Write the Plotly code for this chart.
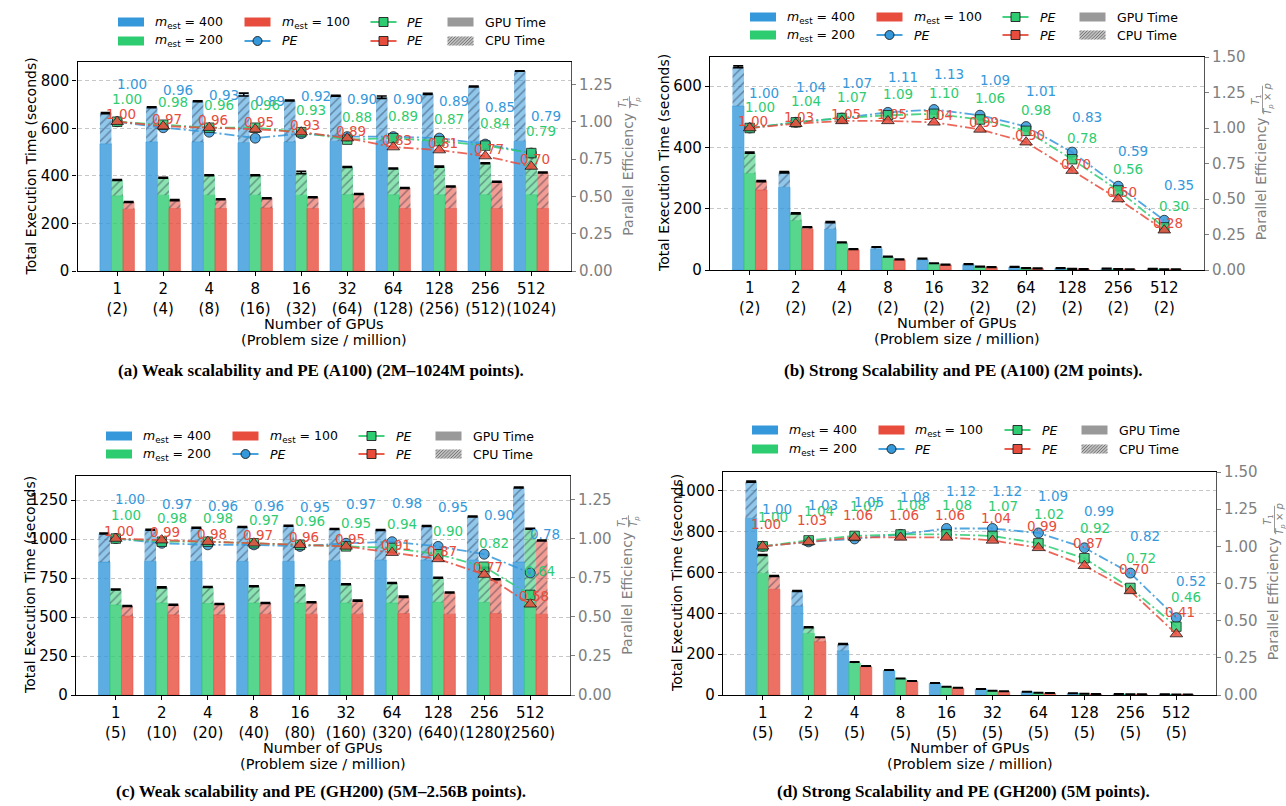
import plotly.graph_objects as go

W, H = 1286, 806

# ---------------------------------------------------------------- data
GPUS = ["1", "2", "4", "8", "16", "32", "64", "128", "256", "512"]
SIZE_A = ["2", "4", "8", "16", "32", "64", "128", "256", "512", "1024"]
SIZE_B = ["2", "2", "2", "2", "2", "2", "2", "2", "2", "2"]
SIZE_C = ["5", "10", "20", "40", "80", "160", "320", "640", "1280", "2560"]
SIZE_D = ["5", "5", "5", "5", "5", "5", "5", "5", "5", "5"]

# (a) weak scaling, A100: GPU / CPU seconds for m_est = 400, 200, 100
A_GPU_400 = [535, 543, 543, 540, 543, 546, 546, 546, 546, 546]
A_CPU_400 = [129, 146, 171, 202, 174, 191, 185, 199, 230, 295]
A_GPU_200 = [316, 319, 319, 319, 319, 321, 321, 321, 321, 321]
A_CPU_200 = [67, 73, 84, 84, 95, 116, 110, 118, 132, 164]
A_GPU_100 = [260, 263, 263, 265, 263, 263, 263, 263, 263, 263]
A_CPU_100 = [30, 35, 39, 41, 47, 61, 86, 92, 112, 151]
A_ERR_400 = [2, 2, 2, 6, 2, 2, 5, 2, 2, 1]
A_ERR_200 = [2, 2, 2, 2, 5, 2, 2, 2, 2, 2]
A_ERR_100 = [2, 2, 2, 2, 2, 2, 2, 2, 2, 2]
A_PE_400 = [1.00, 0.96, 0.93, 0.89, 0.92, 0.90, 0.90, 0.89, 0.85, 0.79]
A_PE_200 = [1.00, 0.98, 0.96, 0.96, 0.93, 0.88, 0.89, 0.87, 0.84, 0.79]
A_PE_100 = [1.00, 0.97, 0.96, 0.95, 0.93, 0.89, 0.83, 0.81, 0.77, 0.70]

# (b) strong scaling, A100
B_GPU_400 = [535, 270, 133, 68, 33, 17, 9, 5, 3.5, 3]
B_CPU_400 = [128, 49, 23, 7, 4, 2, 1.3, 1.2, 0.9, 0.7]
B_GPU_200 = [315, 161, 86, 41, 21, 10.5, 5.5, 3.3, 2.3, 2.1]
B_CPU_200 = [68, 24, 4, 2.5, 1, 0.8, 0.6, 0.5, 0.4, 0.4]
B_GPU_100 = [261, 133, 65, 33, 16.5, 8.7, 4.7, 3.0, 2.1, 1.8]
B_CPU_100 = [29, 7, 3, 1.5, 0.9, 0.5, 0.3, 0.2, 0.2, 0.2]
B_ERR_400 = [3, 2, 2, 1, 1, 1, 1, 1, 1, 1]
B_ERR_200 = [2, 2, 1, 1, 1, 1, 1, 1, 1, 1]
B_ERR_100 = [2, 1, 1, 1, 1, 1, 1, 1, 1, 1]
B_PE_400 = [1.00, 1.04, 1.07, 1.11, 1.13, 1.09, 1.01, 0.83, 0.59, 0.35]
B_PE_200 = [1.00, 1.04, 1.07, 1.09, 1.10, 1.06, 0.98, 0.78, 0.56, 0.30]
B_PE_100 = [1.00, 1.03, 1.05, 1.05, 1.04, 0.99, 0.90, 0.70, 0.50, 0.28]

# (c) weak scaling, GH200
C_GPU_400 = [852, 857, 857, 857, 857, 861, 866, 866, 866, 852]
C_CPU_400 = [183, 203, 215, 220, 228, 203, 192, 217, 279, 478]
C_GPU_200 = [577, 590, 586, 590, 590, 590, 590, 594, 594, 594]
C_CPU_200 = [100, 100, 107, 107, 114, 120, 128, 158, 221, 472]
C_GPU_100 = [506, 514, 514, 518, 518, 518, 522, 518, 522, 518]
C_CPU_100 = [65, 64, 70, 72, 76, 87, 108, 139, 220, 472]
C_ERR_400 = [3, 3, 3, 3, 3, 3, 3, 3, 3, 3]
C_ERR_200 = [3, 3, 3, 3, 3, 3, 3, 3, 3, 3]
C_ERR_100 = [3, 3, 3, 3, 3, 3, 5, 3, 3, 3]
C_PE_400 = [1.00, 0.97, 0.96, 0.96, 0.95, 0.97, 0.98, 0.95, 0.90, 0.78]
C_PE_200 = [1.00, 0.98, 0.98, 0.97, 0.96, 0.95, 0.94, 0.90, 0.82, 0.64]
C_PE_100 = [1.00, 0.99, 0.98, 0.97, 0.96, 0.95, 0.91, 0.87, 0.77, 0.58]

# (d) strong scaling, GH200
D_GPU_400 = [866, 436, 217, 119, 57, 29, 16, 8, 5, 3.5]
D_CPU_400 = [180, 74, 33, 3, 2, 1, 0.5, 0.5, 0.2, 0.5]
D_GPU_200 = [596, 302, 155, 79, 39, 19.5, 10, 5.5, 3.5, 2.7]
D_CPU_200 = [90, 30, 7, 2, 1.5, 0.8, 0.6, 0.4, 0.3, 0.3]
D_GPU_100 = [518, 261, 137, 67, 34, 17, 9, 5, 3.2, 2.6]
D_CPU_100 = [65, 22, 5, 2, 1, 0.8, 0.4, 0.3, 0.2, 0.2]
D_ERR_400 = [3, 2, 2, 1, 1, 1, 1, 1, 1, 1]
D_ERR_200 = [2, 2, 1, 1, 1, 1, 1, 1, 1, 1]
D_ERR_100 = [2, 1, 1, 1, 1, 1, 1, 1, 1, 1]
D_PE_400 = [1.00, 1.03, 1.05, 1.08, 1.12, 1.12, 1.09, 0.99, 0.82, 0.52]
D_PE_200 = [1.00, 1.04, 1.07, 1.08, 1.08, 1.07, 1.02, 0.92, 0.72, 0.46]
D_PE_100 = [1.00, 1.03, 1.06, 1.06, 1.06, 1.04, 0.99, 0.87, 0.70, 0.41]

# ---------------------------------------------------------------- style
BLUE, GREEN, RED = "#3498db", "#2ecc71", "#e74c3c"
FONT = "DejaVu Sans"
GRAY = "#808080"


def rgba(hx, a):
    hx = hx.lstrip("#")
    r, g, b = int(hx[0:2], 16), int(hx[2:4], 16), int(hx[4:6], 16)
    return f"rgba({r},{g},{b},{a})"


def X(px):
    return px / W


def Y(py):
    return 1 - py / H


# (label, colour, bar offset, marker symbol, marker size, label x shift)
SERIES = [
    ("400", BLUE, -0.375, "circle", 10, 0.32),
    ("200", GREEN, -0.125, "square", 9.5, 0.22),
    ("100", RED, 0.125, "triangle-up", 11, 0.08),
]

PANELS = [
    dict(sizes=SIZE_A,
         gpu=(A_GPU_400, A_GPU_200, A_GPU_100), cpu=(A_CPU_400, A_CPU_200, A_CPU_100),
         err=(A_ERR_400, A_ERR_200, A_ERR_100), pe=(A_PE_400, A_PE_200, A_PE_100),
         dom_x=(77.5, 571), dom_y=(62, 271), ymax=879, yticks=[0, 200, 400, 600, 800],
         rmax=1.40, rticks=[0, 0.25, 0.5, 0.75, 1.0, 1.25], dy=(0.25, 0.15, 0.05),
         strong=False, legend=(118, 22, 41), cap_y=370, cap_x=321,
         caption="(a) Weak scalability and PE (A100) (2M–1024M points)."),
    dict(sizes=SIZE_B,
         gpu=(B_GPU_400, B_GPU_200, B_GPU_100), cpu=(B_CPU_400, B_CPU_200, B_CPU_100),
         err=(B_ERR_400, B_ERR_200, B_ERR_100), pe=(B_PE_400, B_PE_200, B_PE_100),
         dom_x=(710, 1204), dom_y=(57, 270), ymax=695, yticks=[0, 200, 400, 600],
         rmax=1.50, rticks=[0, 0.25, 0.5, 0.75, 1.0, 1.25, 1.5], dy=(0.25, 0.15, 0.05),
         strong=True, legend=(750, 17, 35), cap_y=370, cap_x=963,
         caption="(b) Strong Scalability and PE (A100) (2M points)."),
    dict(sizes=SIZE_C,
         gpu=(C_GPU_400, C_GPU_200, C_GPU_100), cpu=(C_CPU_400, C_CPU_200, C_CPU_100),
         err=(C_ERR_400, C_ERR_200, C_ERR_100), pe=(C_PE_400, C_PE_200, C_PE_100),
         dom_x=(76, 570), dom_y=(476, 695), ymax=1404, yticks=[0, 250, 500, 750, 1000, 1250],
         rmax=1.40, rticks=[0, 0.25, 0.5, 0.75, 1.0, 1.25], dy=(0.25, 0.15, 0.05),
         strong=False, legend=(106, 436, 454), cap_y=791, cap_x=321,
         caption="(c) Weak scalability and PE (GH200) (5M–2.56B points)."),
    dict(sizes=SIZE_D,
         gpu=(D_GPU_400, D_GPU_200, D_GPU_100), cpu=(D_CPU_400, D_CPU_200, D_CPU_100),
         err=(D_ERR_400, D_ERR_200, D_ERR_100), pe=(D_PE_400, D_PE_200, D_PE_100),
         dom_x=(723, 1216), dom_y=(472, 695), ymax=1093, yticks=[0, 200, 400, 600, 800, 1000],
         rmax=1.50, rticks=[0, 0.25, 0.5, 0.75, 1.0, 1.25, 1.5], dy=(0.25, 0.20, 0.15),
         strong=True, legend=(752, 430, 449), cap_y=791, cap_x=963,
         caption="(d) Strong Scalability and PE (GH200) (5M points)."),
]

fig = go.Figure()
layout = dict(
    width=W, height=H, margin=dict(l=0, r=0, t=0, b=0), autosize=False,
    template="none", paper_bgcolor="white", plot_bgcolor="white",
    barmode="overlay", showlegend=False,
    font=dict(family=FONT, color="black"),
)
shapes, annotations = [], []


def text(px, py, s, size, color="black", angle=0, xanchor="center", family=FONT):
    annotations.append(dict(
        x=X(px), y=Y(py), xref="paper", yref="paper", text=s, showarrow=False,
        textangle=angle, xanchor=xanchor, yanchor="middle",
        font=dict(family=family, size=size, color=color)))


def hatch(x0, y0, x1, y1, step, color):
    # diagonal "/" strokes clipped to a small box (pixel coordinates, y downward)
    w, h = x1 - x0, y1 - y0
    c = -h + step / 2
    while c < w:
        t0, t1 = max(0.0, -c), min(h, w - c)
        if t1 > t0:
            shapes.append(dict(type="line", xref="paper", yref="paper",
                               x0=X(x0 + c + t0), y0=Y(y1 - t0),
                               x1=X(x0 + c + t1), y1=Y(y1 - t1),
                               line=dict(color=color, width=0.8)))
        c += step


def add_legend(x0, r1, r2):
    cols = [0, 126.5, 252.5, 329.5]
    pw, ph = 26, 9
    mest = "<i>m</i><sub>est</sub> = "

    def patch(cx, ry, fill):
        shapes.append(dict(type="rect", xref="paper", yref="paper",
                           x0=X(cx), x1=X(cx + pw), y0=Y(ry + ph / 2), y1=Y(ry - ph / 2),
                           fillcolor=fill, line=dict(width=0)))

    def line_entry(cx, ry, color, sym):
        shapes.append(dict(type="line", xref="paper", yref="paper",
                           x0=X(cx), x1=X(cx + pw), y0=Y(ry), y1=Y(ry),
                           line=dict(color=color, width=1.8)))
        mx, r = cx + pw / 2, 4.5
        shapes.append(dict(type=sym, xref="paper", yref="paper",
                           x0=X(mx - r), x1=X(mx + r), y0=Y(ry + r), y1=Y(ry - r),
                           fillcolor=color, line=dict(color="rgba(20,20,20,0.85)", width=1)))

    c0, c1, c2, c3 = [x0 + c for c in cols]
    patch(c0, r1, BLUE)
    text(c0 + 35, r1, mest + "400", 12.5, xanchor="left")
    patch(c0, r2, GREEN)
    text(c0 + 35, r2, mest + "200", 12.5, xanchor="left")
    patch(c1, r1, RED)
    text(c1 + 35, r1, mest + "100", 12.5, xanchor="left")
    line_entry(c1, r2, BLUE, "circle")
    text(c1 + 35, r2, "<i>PE</i>", 12.5, xanchor="left")
    line_entry(c2, r1, GREEN, "rect")
    text(c2 + 35, r1, "<i>PE</i>", 12.5, xanchor="left")
    line_entry(c2, r2, RED, "rect")
    text(c2 + 35, r2, "<i>PE</i>", 12.5, xanchor="left")
    patch(c3, r1, "rgba(128,128,128,0.8)")
    text(c3 + 35, r1, "GPU Time", 12.5, xanchor="left")
    patch(c3, r2, "rgba(128,128,128,0.5)")
    hatch(c3, r2 - ph / 2, c3 + pw, r2 + ph / 2, 3.2, "rgba(90,90,90,0.9)")
    text(c3 + 35, r2, "CPU Time", 12.5, xanchor="left")


for k, P in enumerate(PANELS, start=1):
    xr = "x" if k == 1 else f"x{k}"
    xn = "xaxis" if k == 1 else f"xaxis{k}"
    il, ir = 2 * k - 1, 2 * k
    ylr = "y" if il == 1 else f"y{il}"
    yln = "yaxis" if il == 1 else f"yaxis{il}"
    yrr, yrn = f"y{ir}", f"yaxis{ir}"
    cats = [f"{g}<br>({s})" for g, s in zip(GPUS, P["sizes"])]

    # stacked GPU (solid) + CPU (hatched) bars, three per group
    for (key, color, off, sym, msz, dx), gpu, cpu, err in zip(SERIES, P["gpu"], P["cpu"], P["err"]):
        fig.add_trace(go.Bar(
            x=cats, y=gpu, width=0.25, offset=off, xaxis=xr, yaxis=ylr,
            marker=dict(color=rgba(color, 0.8), line=dict(color=rgba(color, 0.9), width=0.6)),
            hoverinfo="skip"))
        fig.add_trace(go.Bar(
            x=cats, y=cpu, base=gpu, width=0.25, offset=off, xaxis=xr, yaxis=ylr,
            marker=dict(color=rgba(color, 0.55), line=dict(width=0),
                        pattern=dict(shape="/", fgcolor="rgba(25,35,60,0.8)", size=6,
                                     solidity=0.25, fillmode="overlay")),
            error_y=dict(type="data", array=err, color="black", thickness=1.6, width=5),
            hoverinfo="skip"))

    # parallel-efficiency curves on the secondary axis
    for (key, color, off, sym, msz, dx), pe, dy in zip(SERIES, P["pe"], P["dy"]):
        fig.add_trace(go.Scatter(
            x=cats, y=pe, mode="lines+markers", xaxis=xr, yaxis=yrr,
            line=dict(color=rgba(color, 0.85), width=1.8, dash="10px,3px,2px,3px"),
            marker=dict(symbol=sym, size=msz, color=rgba(color, 0.85),
                        line=dict(color="rgba(20,20,20,0.75)", width=1)),
            hoverinfo="skip"))
        for i, v in enumerate(pe):
            annotations.append(dict(
                x=i + dx, y=v + dy, xref=xr, yref=yrr, text=f"{v:.2f}", showarrow=False,
                xanchor="center", yanchor="middle", font=dict(family=FONT, size=13.5, color=color)))

    x0, x1 = P["dom_x"]
    y0, y1 = P["dom_y"]
    layout[xn] = dict(
        domain=[X(x0), X(x1)], anchor=ylr, type="category",
        categoryorder="array", categoryarray=cats, range=[-0.8625, 9.8625],
        tickangle=0, tickfont=dict(size=15, color="black"), ticks="outside", ticklen=4,
        tickcolor="black", showline=True, linecolor="black", linewidth=1.2, mirror=True,
        showgrid=False, zeroline=False)
    layout[yln] = dict(
        domain=[Y(y1), Y(y0)], anchor=xr, range=[0, P["ymax"]], tickvals=P["yticks"],
        tickfont=dict(size=15, color="black"), ticks="outside", ticklen=4, tickcolor="black",
        showline=True, linecolor="black", linewidth=1.2,
        showgrid=True, gridcolor="rgba(0,0,0,0.22)", griddash="4px,3px", gridwidth=1,
        zeroline=False)
    layout[yrn] = dict(
        overlaying=ylr, side="right", anchor=xr, range=[0, P["rmax"]], tickvals=P["rticks"],
        tickformat=".2f", tickfont=dict(size=15, color=GRAY), ticks="outside", ticklen=4,
        tickcolor=GRAY, showline=True, linecolor="#555555", linewidth=1.2,
        showgrid=False, zeroline=False)

    # axis titles
    cx, cy = (x0 + x1) / 2, (y0 + y1) / 2
    text(cx, y1 + 53, "Number of GPUs", 14.5)
    text(cx, y1 + 69, "(Problem size / million)", 14.5)
    text(x0 - 46.5, cy, "Total Execution Time (seconds)", 14, angle=-90)

    # right-hand title with a stacked fraction
    l_text, gap = 124.0, 4.5
    if P["strong"]:
        den, l_frac = "<i>T</i><sub><i>p</i></sub> × <i>p</i>", 27.0
    else:
        den, l_frac = "<i>T</i><sub><i>p</i></sub>", 12.0
    total = l_text + gap + l_frac
    bottom, top = cy + total / 2, cy - total / 2
    text(x1 + 57, bottom - l_text / 2, "Parallel Efficiency", 14, color=GRAY, angle=-90)
    fy = top + l_frac / 2
    text(x1 + 52.5, fy, "<i>T</i><sub>1</sub>", 10, color=GRAY, angle=-90)
    text(x1 + 64.5, fy, den, 10, color=GRAY, angle=-90)
    shapes.append(dict(type="line", xref="paper", yref="paper",
                       x0=X(x1 + 58.5), x1=X(x1 + 58.5), y0=Y(top), y1=Y(top + l_frac),
                       line=dict(color=GRAY, width=0.8)))

    add_legend(*P["legend"])
    text(P["cap_x"], P["cap_y"], "<b>" + P["caption"] + "</b>", 17, family="Liberation Serif")

layout["shapes"] = shapes
layout["annotations"] = annotations
fig.update_layout(**layout)
fig.write_html("out.html")
